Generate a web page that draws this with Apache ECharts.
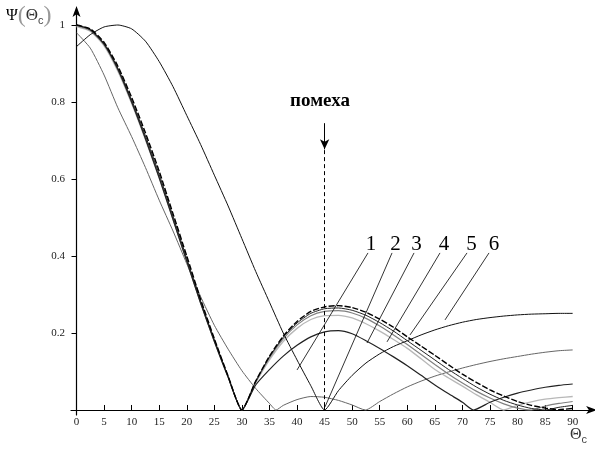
<!DOCTYPE html>
<html><head><meta charset="utf-8">
<script src="https://cdn.jsdelivr.net/npm/echarts@6/dist/echarts.min.js"></script>
<style>html,body{margin:0;padding:0;background:#fff}#c{width:595px;height:450px}</style>
</head><body><div id="c"></div>
<script>
// angles (degrees)
const ang = [0,2.5,5,7.5,10,12.5,15,17.5,20,22.5,25,27.5,30,32.5,35,37.5,40,42.5,45,47.5,50,52.5,55,57.5,60,62.5,65,67.5,70,72.5,75,77.5,80,82.5,85,87.5,90];
const angLow = [0,2.5,5,7.5,10,12.5,15,17.5,20,22.5,25,27.5,30,32.5,35,37.5,40,42.5,45,47.5,50,52.5,55,57.5,60,62.5,65,67.5,70,72,75,77.5,80,82.5,85,87.5,90];
const angGray = [0,2.5,5,7.5,10,12.5,15,17.5,20,22.5,25,27.5,30,32.5,35,36.2,37.5,40,42.5,45,47.5,50,52.4,55,57.5,60,62.5,65,67.5,70,72.5,75,77.5,80,82.5,85,87.5,90];
// curve values
const curveBroad = [.944,.975,.995,1.0,.99,.958,.905,.84,.765,.69,.61,.53,.445,.36,.28,.2,.13,.063,0,.05,.09,.122,.146,.165,.18,.195,.208,.219,.228,.235,.24,.244,.247,.249,.25,.251,.251];
const curveDashed = [1,.99,.955,.893,.812,.72,.62,.51,.4,.288,.185,.088,0,.075,.14,.192,.23,.256,.268,.271,.266,.254,.236,.215,.19,.166,.142,.117,.093,.072,.052,.036,.022,.012,.005,.001,.004];
const curveBlack = [1,.988,.952,.888,.805,.712,.612,.503,.393,.283,.182,.087,0,.074,.138,.189,.226,.251,.263,.265,.259,.246,.227,.205,.18,.155,.13,.105,.082,.06,.041,.025,.013,.004,0,.007,.012];
const curveMid = [.998,.986,.949,.884,.8,.706,.606,.497,.388,.28,.18,.086,0,.073,.135,.185,.221,.245,.256,.258,.252,.238,.218,.195,.17,.144,.118,.093,.07,.049,.031,.016,.005,0,.01,.017,.022];
const curveLight = [.996,.984,.946,.88,.796,.702,.602,.494,.386,.279,.179,.086,0,.07,.13,.178,.212,.235,.245,.246,.239,.224,.205,.183,.16,.133,.105,.083,.062,.04,.02,0,.012,.021,.028,.032,.035];
const curveLow = [1,.988,.95,.885,.8,.705,.603,.495,.386,.278,.178,.085,0,.065,.105,.14,.168,.19,.203,.206,.198,.18,.16,.138,.115,.09,.065,.042,.02,0,.02,.033,.044,.052,.059,.064,.0675];
const curveGray = [.98,.94,.87,.785,.71,.63,.545,.465,.38,.295,.22,.158,.102,.056,.017,0,.012,.027,.035,.033,.025,.013,0,.022,.042,.06,.075,.088,.099,.109,.118,.126,.133,.139,.145,.15,.154,.156];
// axis ticks
const xTicks = [0,5,10,15,20,25,30,35,40,45,50,55,60,65,70,75,80,85,90];
const yTicks = [0.2,0.4,0.6,0.8,1];
const curveLabels = ['1','2','3','4','5','6'];

const serif = '"Liberation Serif","DejaVu Serif",serif';
const pairs = (xs, ys) => xs.map((x, i) => [x, ys[i]]);

// annotation geometry (data coords)
const leaders = [
  [[52.87,.408],[40.0,.104]],
  [[57.23,.408],[45.07,.008]],
  [[61.22,.408],[52.69,.174]],
  [[65.93,.408],[56.32,.177]],
  [[70.83,.408],[60.49,.195]],
  [[74.82,.408],[66.84,.234]]
];
const labelPx = [[371,244],[395.5,244],[416.5,244],[444,244],[471.5,244],[494,244]];

const chart = echarts.init(document.getElementById('c'), null, {renderer:'canvas'});

function mk(name, xs, ys, color, width, type, z){
  return {name, type:'line', data: pairs(xs, ys), showSymbol:false, smooth:0.2,
    lineStyle:{color, width, type: type || 'solid'}, z: z || 2, silent:true, animation:false};
}

const option = {
  animation:false,
  backgroundColor:'#fff',
  grid:{left:71, right:1.9, top:10, bottom:35, containLabel:false},
  xAxis:{type:'value', min:-1, max:93.7,
    axisLine:{show:true, onZero:true, symbol:['none','arrow'], symbolSize:[6,11], symbolOffset:[0,4],
      lineStyle:{color:'#000', width:1.2}},
    axisTick:{show:true, inside:true, length:5, customValues:xTicks, lineStyle:{color:'#000', width:1}},
    axisLabel:{show:true, customValues:xTicks, fontFamily:serif, fontSize:11, color:'#222', margin:2},
    splitLine:{show:false}},
  yAxis:{type:'value', min:-0.013, max:1.039,
    axisLine:{show:true, onZero:true, symbol:['none','arrow'], symbolSize:[6,11], symbolOffset:[0,4],
      lineStyle:{color:'#000', width:1.2}},
    axisTick:{show:true, inside:false, length:5, customValues:yTicks, lineStyle:{color:'#000', width:1}},
    axisLabel:{show:true, customValues:yTicks, fontFamily:serif, fontSize:11, color:'#222', margin:6,
      formatter: v => String(+v.toFixed(1))},
    splitLine:{show:false}},
  series:[
    mk('gray', angGray, curveGray, '#666', 1, 'solid', 2),
    mk('broad', ang, curveBroad, '#111', 1, 'solid', 3),
    mk('light', ang, curveLight, '#b8b8b8', 1.3, 'solid', 2),
    mk('mid', ang, curveMid, '#808080', 1.2, 'solid', 2),
    mk('low', angLow, curveLow, '#222', 1.2, 'solid', 3),
    mk('black', ang, curveBlack, '#222', 1, 'solid', 3),
    mk('dashed', ang, curveDashed, '#000', 1.4, [6,2], 4),
    {type:'line', data:[], silent:true, z:5,
      markLine:{silent:true, animation:false, symbol:['none','none'], label:{show:false},
        lineStyle:{color:'#000', width:0.8, type:'solid'},
        data: leaders.map(l => [{coord:l[0]},{coord:l[1]}]).concat([
          [{coord:[45,.675], lineStyle:{type:[4,3], width:1}},{coord:[45,0]}],
          [{coord:[45,.745], symbol:'none', lineStyle:{width:1}},{coord:[45,.677], symbol:'arrow', symbolSize:[7,10]}]
        ])}}
  ],
  graphic:[
    {type:'text', left:6, top:4, style:{text:'{a|Ψ}{p|(}{t|Θ}{s|c}{p|)}', fill:'#000',
      rich:{a:{fontFamily:serif, fontSize:16, fill:'#000', verticalAlign:'middle'},
            p:{fontFamily:serif, fontSize:24, fill:'#999'},
            t:{fontFamily:serif, fontSize:17, fill:'#333'},
            s:{fontFamily:'"Liberation Sans",sans-serif', fontSize:11, fill:'#444', padding:[10,0,0,0]}}}},
    {type:'text', left:570, top:427, style:{text:'{t|Θ}{s|c}',
      rich:{t:{fontFamily:serif, fontSize:16, fill:'#333'},
            s:{fontFamily:'"Liberation Sans",sans-serif', fontSize:11, fill:'#444', padding:[10,0,0,0]}}}},
    {type:'text', x:320, y:101, style:{text:'помеха', font:'bold 19px ' + serif, fill:'#000', align:'center', verticalAlign:'middle'}}
  ].concat(curveLabels.map((t, i) => ({type:'text', x:labelPx[i][0], y:labelPx[i][1],
      style:{text:t, font:'21px ' + serif, fill:'#000', align:'center', verticalAlign:'middle'}})))
};
chart.setOption(option);
</script>
</body></html>
